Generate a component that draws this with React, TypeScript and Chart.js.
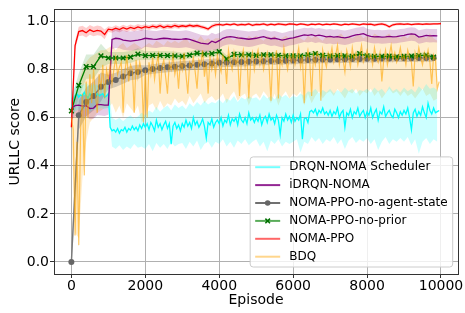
import React, { useEffect, useRef } from 'react';
import { Chart, registerables } from 'chart.js';

Chart.register(...registerables);

// ---------- axes ----------
const X_MIN = -470;
const X_MAX = 10460;
const Y_MIN = -0.05;
const Y_MAX = 1.05;
const xTicks = [0, 2000, 4000, 6000, 8000, 10000];
const yTicks = [0, 0.2, 0.4, 0.6, 0.8, 1.0];
const xTitle = 'Episode';
const yTitle = 'URLLC score';

const seriesLabels = [
  'DRQN-NOMA Scheduler',
  'iDRQN-NOMA',
  'NOMA-PPO-no-agent-state',
  'NOMA-PPO-no-prior',
  'NOMA-PPO',
  'BDQ',
];

// ---------- data (episode steps) ----------
const redStep = 100;
const purpleStep = 100;
const markerStep = 200;
const noisyStep = 50;
const bandStep = 100;
const spreadBlock = 1000;

// NOMA-PPO (red)
const redValues = [
  0.56, 0.90, 0.958, 0.962, 0.953, 0.965, 0.958, 0.963, 0.96, 0.946,
  0.968, 0.965, 0.972, 0.966, 0.974, 0.968, 0.975, 0.97, 0.977, 0.972,
  0.978, 0.974, 0.98, 0.976, 0.982, 0.975, 0.98, 0.977, 0.983, 0.978,
  0.982, 0.979, 0.984, 0.98, 0.983, 0.978, 0.974, 0.968, 0.98, 0.986,
  0.988, 0.985, 0.989, 0.986, 0.99, 0.985, 0.988, 0.986, 0.99, 0.984,
  0.988, 0.987, 0.99, 0.985, 0.989, 0.986, 0.99, 0.988, 0.986, 0.99,
  0.989, 0.986, 0.99, 0.988, 0.985, 0.989, 0.987, 0.99, 0.986, 0.989,
  0.987, 0.99, 0.988, 0.985, 0.989, 0.987, 0.99, 0.988, 0.986, 0.99,
  0.988, 0.989, 0.985, 0.988, 0.99, 0.986, 0.978, 0.986, 0.989, 0.99,
  0.988, 0.99, 0.987, 0.989, 0.99, 0.988, 0.99, 0.989, 0.99, 0.99,
  0.991,
];
const redSpread = [0.02, 0.012, 0.01, 0.008, 0.006, 0.006, 0.005, 0.005, 0.006, 0.005, 0.005];

// iDRQN-NOMA (purple)
const purpleValues = [
  0.637, 0.65, 0.652, 0.648, 0.65, 0.638, 0.64, 0.655, 0.654, 0.652,
  0.652, 0.925, 0.93, 0.928, 0.922, 0.92, 0.918, 0.92, 0.922, 0.925,
  0.93, 0.928, 0.926, 0.925, 0.928, 0.93, 0.929, 0.927, 0.926, 0.925,
  0.926, 0.928, 0.925, 0.92, 0.915, 0.91, 0.908, 0.906, 0.918, 0.912,
  0.92, 0.93, 0.935, 0.937, 0.935, 0.932, 0.93, 0.928, 0.926, 0.928,
  0.93, 0.934, 0.937, 0.932, 0.928, 0.93, 0.926, 0.922, 0.925, 0.93,
  0.932, 0.936, 0.94, 0.944, 0.942, 0.945, 0.94, 0.943, 0.94, 0.936,
  0.938, 0.935, 0.937, 0.934, 0.932, 0.935, 0.94, 0.944, 0.946, 0.949,
  0.942, 0.938, 0.936, 0.937, 0.935, 0.936, 0.938, 0.936, 0.937, 0.94,
  0.942, 0.946, 0.948, 0.946, 0.935, 0.938, 0.942, 0.94, 0.941, 0.94,
];
const purpleSpread = [0.045, 0.04, 0.035, 0.035, 0.032, 0.03, 0.03, 0.03, 0.028, 0.028];

// NOMA-PPO-no-prior (green, x markers)
const greenValues = [
  0.628, 0.734, 0.812, 0.812, 0.857, 0.848, 0.848, 0.848, 0.852, 0.864,
  0.858, 0.859, 0.859, 0.858, 0.857, 0.855, 0.86, 0.868, 0.864, 0.866,
  0.874, 0.844, 0.863, 0.861, 0.861, 0.859, 0.861, 0.861, 0.859, 0.857,
  0.857, 0.857, 0.861, 0.866, 0.859, 0.857, 0.858, 0.857, 0.855, 0.866,
  0.857, 0.855, 0.855, 0.856, 0.853, 0.855, 0.856, 0.858, 0.86, 0.852,
];
const greenSpread = [0.05, 0.025, 0.018, 0.015, 0.015, 0.012, 0.012, 0.012, 0.012, 0.012];

// NOMA-PPO-no-agent-state (gray, dot markers)
const grayValues = [
  0.0, 0.61, 0.665, 0.69, 0.728, 0.748, 0.757, 0.771, 0.785, 0.79,
  0.797, 0.802, 0.806, 0.809, 0.812, 0.815, 0.817, 0.82, 0.822, 0.825,
  0.828, 0.829, 0.83, 0.831, 0.832, 0.833, 0.834, 0.835, 0.836, 0.837,
  0.838, 0.839, 0.84, 0.841, 0.842, 0.842, 0.843, 0.843, 0.844, 0.844,
  0.845, 0.845, 0.846, 0.846, 0.847, 0.847, 0.847, 0.848, 0.848, 0.848,
];
const graySpread = [0.06, 0.03, 0.02, 0.02, 0.018, 0.016, 0.016, 0.016, 0.016, 0.016];

// DRQN-NOMA Scheduler (cyan)
const cyanValues = [
  0.64, 0.67, 0.69, 0.70, 0.685, 0.695, 0.69, 0.705, 0.69, 0.68,
  0.70, 0.69, 0.695, 0.685, 0.70, 0.69, 0.695, 0.70, 0.685, 0.69,
  0.70, 0.56, 0.545, 0.55, 0.54, 0.555, 0.535, 0.55, 0.545, 0.56,
  0.54, 0.555, 0.548, 0.565, 0.55, 0.56, 0.545, 0.57, 0.555, 0.575,
  0.56, 0.575, 0.55, 0.58, 0.565, 0.545, 0.59, 0.56, 0.575, 0.55,
  0.57, 0.585, 0.555, 0.575, 0.49, 0.565, 0.58, 0.555, 0.57, 0.545,
  0.575, 0.56, 0.59, 0.565, 0.58, 0.555, 0.6, 0.57, 0.585, 0.56,
  0.575, 0.595, 0.565, 0.515, 0.58, 0.57, 0.595, 0.56, 0.58, 0.59,
  0.575, 0.6, 0.565, 0.59, 0.58, 0.61, 0.57, 0.595, 0.585, 0.6,
  0.57, 0.615, 0.59, 0.58, 0.6, 0.575, 0.62, 0.59, 0.6, 0.58,
  0.6, 0.585, 0.61, 0.57, 0.595, 0.605, 0.58, 0.615, 0.59, 0.6,
  0.575, 0.61, 0.59, 0.53, 0.6, 0.585, 0.615, 0.59, 0.605, 0.58,
  0.61, 0.585, 0.6, 0.59, 0.615, 0.51, 0.595, 0.6, 0.58, 0.625,
  0.63, 0.62, 0.635, 0.61, 0.63, 0.62, 0.64, 0.615, 0.625, 0.61,
  0.63, 0.605, 0.625, 0.615, 0.64, 0.6, 0.62, 0.63, 0.56, 0.62,
  0.61, 0.635, 0.6, 0.625, 0.615, 0.64, 0.605, 0.62, 0.63, 0.6,
  0.625, 0.61, 0.64, 0.6, 0.62, 0.635, 0.59, 0.625, 0.615, 0.645,
  0.605, 0.62, 0.63, 0.61, 0.6, 0.635, 0.62, 0.6, 0.625, 0.61,
  0.63, 0.615, 0.64, 0.6, 0.55, 0.62, 0.635, 0.605, 0.625, 0.61,
  0.645, 0.62, 0.6, 0.66, 0.63, 0.615, 0.64, 0.62, 0.625, 0.63,
];
const cyanHigh = [
  0.70, 0.73, 0.74, 0.735, 0.745, 0.73, 0.74, 0.735, 0.745, 0.74,
  0.745, 0.60, 0.59, 0.6, 0.585, 0.6, 0.61, 0.595, 0.605, 0.62,
  0.61, 0.63, 0.62, 0.645, 0.625, 0.64, 0.65, 0.63, 0.655, 0.64,
  0.65, 0.635, 0.66, 0.645, 0.665, 0.65, 0.67, 0.655, 0.665, 0.66,
  0.675, 0.66, 0.68, 0.67, 0.69, 0.665, 0.685, 0.675, 0.69, 0.68,
  0.685, 0.67, 0.695, 0.68, 0.69, 0.675, 0.7, 0.685, 0.695, 0.68,
  0.69, 0.685, 0.7, 0.69, 0.71, 0.705, 0.72, 0.7, 0.715, 0.705,
  0.72, 0.7, 0.715, 0.705, 0.725, 0.71, 0.72, 0.7, 0.715, 0.71,
  0.72, 0.705, 0.725, 0.71, 0.72, 0.7, 0.73, 0.71, 0.72, 0.705,
  0.725, 0.71, 0.72, 0.705, 0.73, 0.715, 0.74, 0.72, 0.725, 0.715,
];
const cyanLow = [
  0.60, 0.625, 0.635, 0.63, 0.64, 0.625, 0.635, 0.63, 0.64, 0.635,
  0.64, 0.48, 0.47, 0.485, 0.465, 0.48, 0.47, 0.49, 0.475, 0.48,
  0.47, 0.49, 0.46, 0.495, 0.475, 0.49, 0.47, 0.5, 0.48, 0.49,
  0.495, 0.47, 0.5, 0.48, 0.505, 0.465, 0.49, 0.5, 0.475, 0.5,
  0.49, 0.51, 0.48, 0.5, 0.475, 0.505, 0.49, 0.51, 0.485, 0.5,
  0.51, 0.48, 0.5, 0.46, 0.505, 0.49, 0.51, 0.48, 0.5, 0.49,
  0.5, 0.51, 0.455, 0.5, 0.49, 0.52, 0.5, 0.515, 0.49, 0.51,
  0.5, 0.52, 0.49, 0.51, 0.47, 0.505, 0.52, 0.495, 0.51, 0.5,
  0.515, 0.49, 0.51, 0.465, 0.5, 0.52, 0.49, 0.51, 0.5, 0.515,
  0.5, 0.52, 0.485, 0.51, 0.45, 0.5, 0.515, 0.49, 0.51, 0.5,
];

// BDQ (orange)
const orangeValues = [
  0.60, 0.55, 0.11, 0.50, 0.07, 0.55, 0.70, 0.36, 0.75, 0.60, 0.78, 0.66, 0.80, 0.70, 0.62, 0.78, 0.72, 0.82, 0.68, 0.80,
  0.76, 0.82, 0.74, 0.8, 0.85, 0.78, 0.81, 0.83, 0.62, 0.79, 0.86, 0.75, 0.82, 0.8, 0.62, 0.84, 0.77, 0.83, 0.79, 0.58,
  0.8, 0.6, 0.83, 0.78, 0.85, 0.76, 0.82, 0.86, 0.7, 0.81, 0.84, 0.77, 0.7, 0.83, 0.8, 0.86, 0.78, 0.82, 0.72, 0.84,
  0.8, 0.87, 0.78, 0.7, 0.83, 0.81, 0.85, 0.79, 0.72, 0.84, 0.82, 0.88, 0.77, 0.83, 0.7, 0.85, 0.8, 0.84, 0.78, 0.86,
  0.82, 0.79, 0.86, 0.84, 0.74, 0.88, 0.83, 0.8, 0.87, 0.82, 0.85, 0.69, 0.84, 0.88, 0.81, 0.86, 0.68, 0.83, 0.87, 0.8,
  0.85, 0.88, 0.82, 0.86, 0.8, 0.84, 0.87, 0.81, 0.67, 0.86, 0.83, 0.88, 0.68, 0.85, 0.82, 0.89, 0.84, 0.8, 0.86, 0.83,
  0.87, 0.82, 0.85, 0.89, 0.81, 0.86, 0.66, 0.84, 0.88, 0.83, 0.69, 0.86, 0.82, 0.87, 0.85, 0.67, 0.88, 0.84, 0.81, 0.87,
  0.85, 0.89, 0.83, 0.86, 0.9, 0.82, 0.87, 0.84, 0.79, 0.88, 0.85, 0.81, 0.89, 0.84, 0.87, 0.82, 0.86, 0.9, 0.83, 0.85,
  0.88, 0.84, 0.86, 0.82, 0.89, 0.85, 0.83, 0.87, 0.75, 0.84, 0.88, 0.82, 0.86, 0.9, 0.84, 0.87, 0.83, 0.85, 0.89, 0.84,
  0.86, 0.82, 0.88, 0.85, 0.83, 0.73, 0.87, 0.84, 0.89, 0.85, 0.82, 0.87, 0.84, 0.88, 0.83, 0.74, 0.86, 0.84, 0.72, 0.75,
];
const orangeHigh = [
  0.65, 0.7, 0.75, 0.8, 0.83, 0.85, 0.86, 0.87, 0.88, 0.88,
  0.89, 0.9, 0.88, 0.9, 0.91, 0.89, 0.9, 0.91, 0.9, 0.89,
  0.9, 0.91, 0.9, 0.92, 0.91, 0.9, 0.92, 0.91, 0.92, 0.91,
  0.92, 0.93, 0.91, 0.93, 0.92, 0.94, 0.92, 0.93, 0.92, 0.93,
  0.93, 0.92, 0.94, 0.93, 0.92, 0.94, 0.93, 0.92, 0.94, 0.93,
  0.94, 0.93, 0.92, 0.94, 0.93, 0.94, 0.92, 0.93, 0.94, 0.93,
  0.93, 0.94, 0.93, 0.92, 0.94, 0.93, 0.94, 0.93, 0.92, 0.94,
  0.94, 0.93, 0.94, 0.95, 0.93, 0.94, 0.93, 0.94, 0.95, 0.93,
  0.94, 0.93, 0.95, 0.94, 0.93, 0.94, 0.95, 0.93, 0.94, 0.93,
  0.94, 0.93, 0.95, 0.94, 0.93, 0.94, 0.93, 0.95, 0.93, 0.92,
];
const orangeLow = [
  0.55, 0.12, 0.1, 0.35, 0.5, 0.58, 0.6, 0.62, 0.63, 0.64,
  0.64, 0.66, 0.62, 0.65, 0.6, 0.66, 0.64, 0.62, 0.65, 0.58,
  0.6, 0.65, 0.66, 0.63, 0.67, 0.64, 0.66, 0.65, 0.68, 0.66,
  0.67, 0.65, 0.69, 0.66, 0.68, 0.7, 0.66, 0.68, 0.69, 0.67,
  0.68, 0.7, 0.66, 0.69, 0.71, 0.67, 0.69, 0.7, 0.65, 0.69,
  0.7, 0.68, 0.71, 0.69, 0.66, 0.7, 0.65, 0.69, 0.71, 0.68,
  0.7, 0.69, 0.71, 0.65, 0.7, 0.66, 0.69, 0.71, 0.68, 0.7,
  0.71, 0.69, 0.72, 0.7, 0.68, 0.71, 0.7, 0.72, 0.69, 0.71,
  0.7, 0.72, 0.69, 0.71, 0.68, 0.7, 0.72, 0.7, 0.71, 0.69,
  0.71, 0.69, 0.7, 0.68, 0.7, 0.72, 0.69, 0.7, 0.67, 0.68,
];

// ---------- helpers ----------
type Pt = { x: number; y: number };
const toPoints = (vals: number[], step: number): Pt[] => vals.map((y, i) => ({ x: i * step, y }));
const withSpread = (vals: number[], step: number, spread: number[], sign: number): Pt[] =>
  vals.map((y, i) => {
    const x = i * step;
    const s = spread[Math.min(Math.floor(x / spreadBlock), spread.length - 1)];
    return { x, y: y + sign * s };
  });

const FONT = '"DejaVu Sans", "Liberation Sans", sans-serif';

const legendStyles = [
  { color: 'rgba(0,255,255,0.55)', marker: null },
  { color: 'rgba(128,0,128,0.85)', marker: null },
  { color: '#707070', marker: 'dot' },
  { color: 'rgba(0,128,0,0.65)', marker: 'x' },
  { color: 'rgba(255,0,0,0.6)', marker: null },
  { color: 'rgba(255,165,0,0.45)', marker: null },
];

const framePlugin = {
  id: 'frame',
  afterDraw(chart: any) {
    const { ctx, chartArea: a } = chart;
    ctx.save();
    ctx.strokeStyle = '#333';
    ctx.lineWidth = 1;
    const top = Math.round(a.top - 0.5) + 0.5;
    const right = Math.round(a.right - 0.5) + 0.5;
    ctx.beginPath();
    ctx.moveTo(a.left, top);
    ctx.lineTo(right, top);
    ctx.lineTo(right, a.bottom);
    ctx.stroke();

    // legend box (lower right, inside the axes)
    ctx.font = `12px ${FONT}`;
    const maxW = Math.max(...seriesLabels.map((t) => ctx.measureText(t).width));
    const rowH = 17.9;
    const padY = 10.3;
    const boxW = 5 + 25 + 9 + maxW + 5;
    const boxH = rowH * (seriesLabels.length - 1) + padY * 2;
    const bx = a.right - 5.3 - boxW;
    const by = a.bottom - 7 - boxH;
    ctx.beginPath();
    if ((ctx as any).roundRect) (ctx as any).roundRect(bx, by, boxW, boxH, 3);
    else ctx.rect(bx, by, boxW, boxH);
    ctx.fillStyle = 'rgba(255,255,255,0.8)';
    ctx.fill();
    ctx.strokeStyle = '#cccccc';
    ctx.lineWidth = 1;
    ctx.stroke();

    seriesLabels.forEach((label, i) => {
      const cy = by + padY + i * rowH;
      const lx = bx + 5;
      const st = legendStyles[i];
      ctx.strokeStyle = st.color;
      ctx.lineWidth = 2;
      ctx.beginPath();
      ctx.moveTo(lx, cy);
      ctx.lineTo(lx + 25, cy);
      ctx.stroke();
      const mx = lx + 12.5;
      if (st.marker === 'dot') {
        ctx.fillStyle = '#666';
        ctx.beginPath();
        ctx.arc(mx, cy, 2.8, 0, Math.PI * 2);
        ctx.fill();
      } else if (st.marker === 'x') {
        ctx.strokeStyle = '#007000';
        ctx.lineWidth = 1.5;
        ctx.beginPath();
        ctx.moveTo(mx - 2.3, cy - 2.3);
        ctx.lineTo(mx + 2.3, cy + 2.3);
        ctx.moveTo(mx + 2.3, cy - 2.3);
        ctx.lineTo(mx - 2.3, cy + 2.3);
        ctx.stroke();
      }
      ctx.fillStyle = '#000';
      ctx.textBaseline = 'middle';
      ctx.textAlign = 'left';
      ctx.fillText(label, lx + 25 + 9, cy);
    });
    ctx.restore();
  },
};

function band(low: Pt[], high: Pt[], fillColor: string) {
  const common = {
    borderWidth: 0,
    borderColor: 'rgba(0,0,0,0)',
    pointRadius: 0,
    order: 100,
  };
  return [
    { ...common, data: low, fill: false },
    { ...common, data: high, fill: '-1', backgroundColor: fillColor },
  ];
}

export default function App() {
  const ref = useRef<HTMLCanvasElement | null>(null);

  useEffect(() => {
    if (!ref.current) return;
    Chart.defaults.font.family = FONT;

    const bandsBg = 'beforeDatasetsDraw';
    const datasets: any[] = [
      ...band(cyanLow.map((y, i) => ({ x: i * bandStep, y })), cyanHigh.map((y, i) => ({ x: i * bandStep, y })), 'rgba(0,255,255,0.2)'),
      ...band(withSpread(purpleValues, purpleStep, purpleSpread, -1), withSpread(purpleValues, purpleStep, purpleSpread, 1), 'rgba(128,0,128,0.2)'),
      ...band(withSpread(grayValues, markerStep, graySpread, -1), withSpread(grayValues, markerStep, graySpread, 1), 'rgba(128,128,128,0.35)'),
      ...band(withSpread(greenValues, markerStep, greenSpread, -1), withSpread(greenValues, markerStep, greenSpread, 1), 'rgba(0,128,0,0.15)'),
      ...band(withSpread(redValues, redStep, redSpread, -1), withSpread(redValues, redStep, redSpread, 1), 'rgba(255,0,0,0.2)'),
      ...band(orangeLow.map((y, i) => ({ x: i * bandStep, y })), orangeHigh.map((y, i) => ({ x: i * bandStep, y })), 'rgba(255,165,0,0.2)'),
      {
        label: seriesLabels[0], data: toPoints(cyanValues, noisyStep),
        borderColor: '#00ffff', borderWidth: 1.3, pointRadius: 0, fill: false, order: 6,
      },
      {
        label: seriesLabels[1], data: toPoints(purpleValues, purpleStep),
        borderColor: '#800080', borderWidth: 1.3, pointRadius: 0, fill: false, order: 5,
      },
      {
        label: seriesLabels[2], data: toPoints(grayValues, markerStep),
        borderColor: '#7a7a7a', borderWidth: 1.4, pointRadius: 3, pointStyle: 'circle',
        pointBackgroundColor: '#666', pointBorderColor: '#666', pointBorderWidth: 0, fill: false, order: 4,
      },
      {
        label: seriesLabels[3], data: toPoints(greenValues, markerStep),
        borderColor: '#008000', borderWidth: 1.3, pointRadius: 3.3, pointStyle: 'crossRot',
        pointBorderColor: '#006f00', pointBorderWidth: 1.5, fill: false, order: 3,
      },
      {
        label: seriesLabels[4], data: toPoints(redValues, redStep),
        borderColor: '#ff0000', borderWidth: 1.3, pointRadius: 0, fill: false, order: 2,
      },
      {
        label: seriesLabels[5], data: toPoints(orangeValues, noisyStep),
        borderColor: 'rgba(255,165,0,0.6)', borderWidth: 1.2, pointRadius: 0, fill: false, order: 1,
      },
    ];

    const tickFont = { family: FONT, size: 14 };
    const chart = new Chart(ref.current, {
      type: 'line',
      data: { datasets },
      plugins: [framePlugin],
      options: {
        responsive: false,
        animation: false,
        events: [],
        layout: { padding: { left: 0, right: 7, top: 6, bottom: 0 } },
        plugins: {
          legend: { display: false },
          tooltip: { enabled: false },
          filler: { drawTime: bandsBg as any },
        },
        scales: {
          x: {
            type: 'linear',
            min: X_MIN,
            max: X_MAX,
            afterBuildTicks: (s: any) => { s.ticks = xTicks.map((v) => ({ value: v })); },
            afterFit: (s: any) => { s.height = 39; },
            ticks: { font: tickFont, color: '#000', padding: 0, maxRotation: 0, callback: (v: any) => String(v) },
            grid: { color: '#b0b0b0', lineWidth: 1, tickLength: 4, tickColor: '#333' },
            border: { color: '#333', width: 1 },
            title: { display: true, text: xTitle, font: tickFont, color: '#000', padding: { top: 0, bottom: 4 } },
          },
          y: {
            type: 'linear',
            min: Y_MIN,
            max: Y_MAX,
            afterBuildTicks: (s: any) => { s.ticks = yTicks.map((v) => ({ value: v })); },
            afterFit: (s: any) => { s.width = 54; },
            ticks: { font: tickFont, color: '#000', padding: 1, callback: (v: any) => Number(v).toFixed(1) },
            grid: { color: '#b0b0b0', lineWidth: 1, tickLength: 4, tickColor: '#333' },
            border: { color: '#333', width: 1 },
            title: { display: true, text: yTitle, font: tickFont, color: '#000', padding: { top: 7, bottom: 0 } },
          },
        },
      } as any,
    });
    return () => chart.destroy();
  }, []);

  return (
    <div style={{ position: 'absolute', left: 0, top: 0, width: 465, height: 313, background: '#fff' }}>
      <canvas ref={ref} width={465} height={313} style={{ width: 465, height: 313, display: 'block' }} />
    </div>
  );
}
